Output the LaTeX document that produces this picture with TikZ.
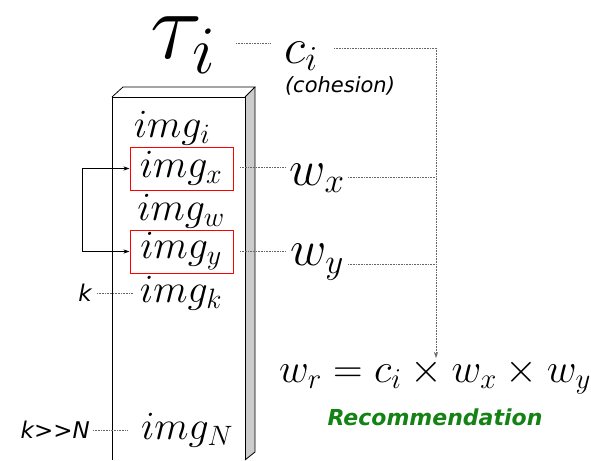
\RequirePackage{fix-cm}
\documentclass[tikz,border=0pt]{standalone}
\usepackage{fontspec}
\setsansfont{DejaVu Sans}
\usetikzlibrary{arrows.meta}
\definecolor{recgreen}{RGB}{20,130,20}
\tikzset{
  dotline/.style={draw=gray!80!black, densely dotted, line width=0.6pt},
  imglabel/.style={inner sep=1pt, font=\fontsize{40}{40}\selectfont},
  redbox/.style={draw=red, line width=1pt, inner sep=0pt, minimum width=103pt, minimum height=43pt},
  wlabel/.style={inner sep=1pt, font=\fontsize{50}{50}\selectfont},
  sidelabel/.style={inner sep=1pt, font=\sffamily\itshape\fontsize{21}{21}\selectfont},
  klabel/.style={inner sep=1pt, font=\sffamily\itshape\fontsize{23}{23}\selectfont},
}
\begin{document}
\begin{tikzpicture}[x=1pt,y=-1pt]
\useasboundingbox (0,0) rectangle (591,460);
% box
\fill[gray!40] (245,97) -- (255,87) -- (255,452) -- (245,460) -- cycle;
\draw[line width=0.8pt] (112,460) -- (112,97) -- (245,97) -- (245,460);
\draw[line width=0.8pt] (112,97) -- (123,87) -- (255,87) -- (245,97);
\draw[line width=0.8pt] (255,87) -- (255,452) -- (245,460);
% labels in box
\node[imglabel] (imgi) at (172,128) {$img_i$};
\node[redbox] (bx) at (181.5,168.5) {};
\node[imglabel] (imgx) at (181,168) {$img_x$};
\node[imglabel] (imgw) at (181,211) {$img_w$};
\node[redbox] (by) at (181.5,251.5) {};
\node[imglabel] (imgy) at (181,251) {$img_y$};
\node[imglabel] (imgk) at (181,293) {$img_k$};
\node[imglabel] (imgN) at (187,430) {$img_N$};
% tau and c
\node[inner sep=0pt, font=\fontsize{97}{97}\selectfont] (tau) at (183,45) {$\tau_i$};
\node[wlabel] (ci) at (301,56) {$c_i$};
\node[sidelabel, anchor=north] (coh) at (340,75) {(cohesion)};
\node[wlabel] (wx) at (317,178) {$w_x$};
\node[wlabel] (wy) at (317,262) {$w_y$};
\node[inner sep=0pt, anchor=base, font=\fontsize{41}{41}\selectfont] (wr) at (435,382) {$w_r = c_i \times w_x \times w_y$};
\node[inner sep=0pt, font=\sffamily\itshape\bfseries\fontsize{22}{22}\selectfont, text=recgreen] (rec) at (435,417) {Recommendation};
\node[klabel, anchor=east] (k) at (93,293) {k};
\node[klabel, anchor=east] (kN) at (91,430) {k{>}{>}N};
% connectors
\coordinate (cR) at (436,48);
\coordinate (xR) at (436,177);
\coordinate (yR) at (436,264);
\coordinate (wrT) at (436,358);
\draw[dotline] (236,43) -- (270,43);
\draw[dotline] (334,48) -- (cR);
\draw[dotline] (348,177) -- (xR);
\draw[dotline] (348,264) -- (yR);
\draw[dotline, -{Stealth[length=6pt,width=4pt]}] (cR) -- (wrT);
\draw[dotline] (240,167) -- (285,167);
\draw[dotline] (240,251) -- (285,251);
\draw[dotline] (97,293) -- (133,293);
\draw[dotline] (93,430) -- (128,430);
\draw[line width=0.7pt, {Stealth[length=6pt,width=4pt]}-{Stealth[length=6pt,width=4pt]}] (bx.west) -- (82,168.5) -- (82,251.5) -- (by.west);
\end{tikzpicture}
\end{document}
